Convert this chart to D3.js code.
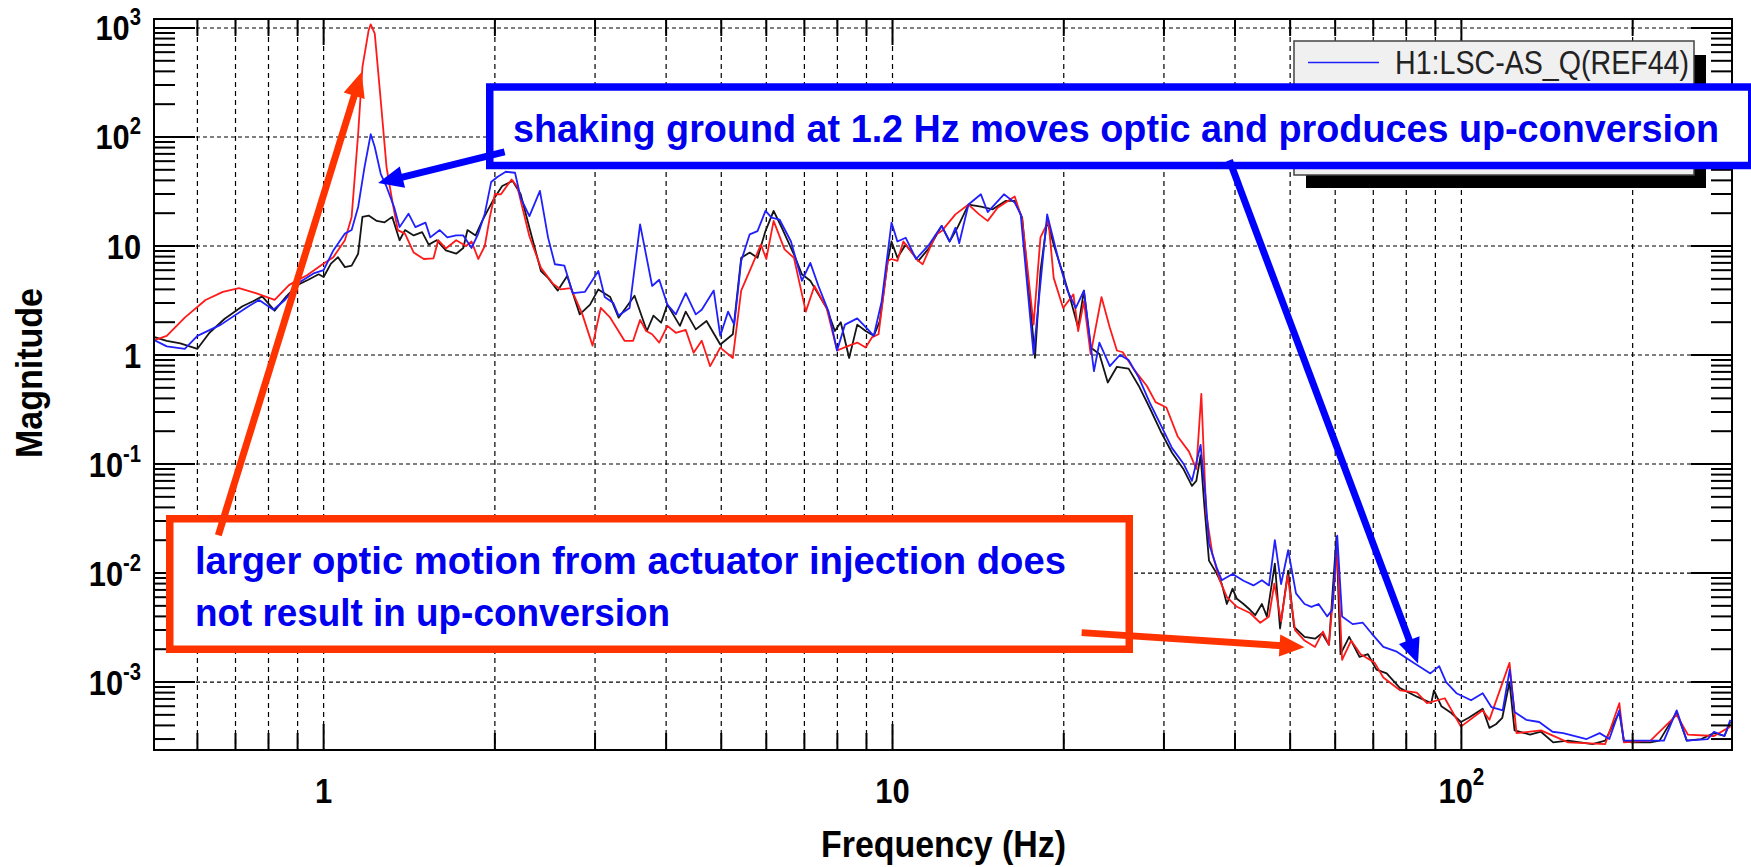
<!DOCTYPE html>
<html>
<head>
<meta charset="utf-8">
<script src="https://cdn.jsdelivr.net/npm/d3@7"></script>
<style>
  body { margin: 0; background: #fff; }
  svg { display: block; font-family: "Liberation Sans", Arial, sans-serif; }
</style>
</head>
<body>
<div id="chart"></div>
<script>
// Spectra: [frequency (Hz), magnitude]
let blackData = [
  [0.5,1.48],[0.53,1.35],[0.56,1.28],[0.6,1.14],[0.63,1.6],[0.67,2.15],[0.72,2.8],[0.75,3.1],[0.78,3.45],
  [0.82,2.55],[0.86,3.45],[0.9,4.4],[0.94,4.9],[0.98,5.5],[1.0,5.2],[1.03,6.9],[1.06,7.9],[1.09,6.4],
  [1.12,6.6],[1.15,8.5],[1.17,18.5],[1.2,19],[1.24,17],[1.28,16.5],[1.32,18.5],[1.36,11.3],[1.39,14],
  [1.44,12.5],[1.49,13.4],[1.53,10.3],[1.58,11.3],[1.64,9.1],[1.71,8.5],[1.76,9.6],[1.79,14],[1.85,12.5],
  [1.9,17],[1.95,22],[2.0,28],[2.06,35.5],[2.15,39.5],[2.22,29.8],[2.3,14.7],[2.41,5.9],[2.48,5.1],
  [2.58,3.9],[2.68,5.3],[2.82,2.36],[2.94,2.9],[3.04,4.0],[3.19,3.4],[3.3,2.2],[3.52,3.5],[3.7,1.66],
  [3.8,2.3],[3.92,1.98],[4.02,2.9],[4.23,1.85],[4.33,2.5],[4.51,1.72],[4.71,2.05],[4.98,1.25],[5.24,1.55],
  [5.42,7.8],[5.61,8.7],[5.79,7.8],[5.98,13.7],[6.18,21],[6.39,14.7],[6.71,8.4],[6.93,5.5],[7.17,4.8],
  [7.41,3.6],[7.66,2.7],[7.92,1.66],[8.11,2.0],[8.39,0.94],[8.67,1.9],[8.97,1.66],[9.27,1.5],[9.5,2.05],
  [9.81,7.3],[9.96,11],[10.2,7.8],[10.55,10.3],[11.1,7.3],[11.6,9.6],[12.2,15.3],[12.6,11],[13.0,14.7],
  [13.6,24],[14.3,23],[15.0,21.7],[15.8,25.9],[16.4,25.9],[16.9,18.2],[17.3,5.1],[17.8,0.94],[18.2,5.9],
  [18.7,17],[19.2,10.3],[19.95,5.5],[20.6,3.1],[21.2,1.78],[21.7,3.9],[22.3,1.17],[23.1,1.02],[23.9,0.56],
  [24.8,0.78],[26,0.75],[27.1,0.52],[28.3,0.33],[29.6,0.2],[31,0.127],[32.5,0.089],[33.6,0.063],[34.2,0.07],
  [34.8,0.12],[35.3,0.044],[36,0.013],[37.1,0.01],[37.9,0.008],[38.7,0.0052],[39.6,0.0072],[40.3,0.0058],
  [41.4,0.0052],[42.5,0.0046],[43.4,0.0041],[44.6,0.0052],[45.5,0.004],[47.0,0.0122],[48.0,0.0031],
  [49.6,0.0105],[50.8,0.0032],[53.0,0.0026],[55.3,0.0025],[56.9,0.0028],[58.5,0.0022],[60.3,0.0215],
  [61.3,0.0018],[63.5,0.0026],[66.2,0.0017],[68.5,0.0018],[70.9,0.0013],[73.9,0.0012],[78.0,0.00088],
  [83.7,0.00073],[88.5,0.00064],[89.5,0.00084],[92.2,0.0006],[96,0.00052],[99.8,0.00043],[103,0.00047],
  [109,0.00057],[112,0.00038],[115,0.00041],[118,0.00047],[121.5,0.001],[124,0.00036],[132,0.00033],
  [138,0.00035],[145,0.00028],[154,0.00029],[170,0.00027],[179,0.00029],[189.5,0.00053],[193,0.00029],
  [199,0.00028],[215,0.00028],[223,0.00029],[239,0.00053],[249,0.00029],[264,0.0003],[278,0.00034],
  [290,0.00032],[297,0.00043]
];

let redData = [
  [0.5,1.35],[0.53,1.5],[0.57,2.2],[0.62,3.2],[0.665,3.8],[0.71,4.1],[0.76,3.7],[0.82,3.2],[0.87,4.4],
  [0.935,5.4],[1.0,6.9],[1.04,7.9],[1.09,11.3],[1.12,18.5],[1.15,107],[1.17,438],[1.2,954],[1.21,1080],
  [1.23,888],[1.26,217],[1.29,53],[1.32,26],[1.35,14],[1.39,13],[1.44,8.7],[1.5,7.6],[1.56,7.7],[1.59,11.3],
  [1.64,9.5],[1.71,11.3],[1.78,10],[1.82,11],[1.87,7.6],[1.92,10],[1.96,18.5],[2.0,30],[2.05,29.8],
  [2.14,40.8],[2.19,35],[2.3,12.3],[2.41,6.3],[2.53,4.5],[2.61,4.0],[2.72,4.1],[2.85,2.36],[2.97,1.22],
  [3.07,2.7],[3.19,2.2],[3.38,1.35],[3.5,1.35],[3.6,2.1],[3.69,1.66],[3.78,1.55],[3.89,1.3],[4.02,1.85],
  [4.16,1.6],[4.33,1.7],[4.47,1.05],[4.62,1.35],[4.78,0.79],[4.98,1.17],[5.24,0.94],[5.42,3.9],[5.61,5.9],
  [5.87,10.3],[6.0,7.6],[6.18,17],[6.46,9.3],[6.71,7.8],[7.04,2.5],[7.29,4.3],[7.66,2.7],[7.99,1.1],
  [8.32,1.2],[8.67,1.3],[8.97,1.17],[9.2,1.45],[9.45,1.55],[9.81,7.3],[9.96,7.6],[10.2,7.3],[10.45,11],
  [11.1,7.3],[11.3,6.8],[11.9,12.6],[12.2,13.7],[12.9,19.5],[13.6,24],[14.2,19.5],[14.7,17],[15.3,22.4],
  [16.4,28.5],[16.9,17.5],[17.7,1.9],[18.2,12],[18.8,17],[19.2,5.1],[19.95,2.7],[20.8,3.6],[21.2,1.66],
  [21.7,3.1],[22.3,1.02],[23.3,3.4],[24.1,1.78],[24.8,1.1],[25.4,1.06],[26.5,0.75],[28.0,0.52],[29.0,0.37],
  [30.3,0.33],[31.7,0.18],[33.2,0.13],[34.2,0.09],[34.9,0.44],[35.6,0.035],[36.5,0.015],[37.6,0.0086],
  [38.7,0.006],[40.3,0.0049],[42.5,0.0043],[44.3,0.0035],[45.9,0.004],[46.9,0.008],[48.2,0.0036],
  [49.5,0.0095],[51,0.003],[53,0.0024],[55.3,0.0021],[57.1,0.0029],[58.5,0.0022],[60.5,0.0162],[61.7,0.0016],
  [64,0.0024],[66.5,0.0018],[70.4,0.0015],[72.9,0.0011],[78,0.00084],[83.5,0.0008],[87,0.00064],
  [93.5,0.00071],[99.8,0.00039],[109,0.00055],[112,0.00045],[121.5,0.0015],[125,0.00034],[138,0.00036],
  [154,0.00028],[179,0.00027],[189.5,0.00064],[193,0.00028],[215,0.00029],[239,0.0005],[250,0.00033],
  [278,0.00032],[297,0.00039]
];

let blueData = [
  [0.5,1.4],[0.53,1.2],[0.57,1.14],[0.6,1.5],[0.66,1.9],[0.73,2.7],[0.77,3.2],[0.816,2.6],[0.855,3.2],
  [0.91,4.7],[0.96,5.6],[1.0,6.0],[1.04,9.1],[1.09,13],[1.12,14],[1.15,22.8],[1.18,53],[1.21,106],[1.23,81],
  [1.26,46],[1.29,35],[1.33,22.8],[1.36,14.9],[1.41,19.8],[1.45,14.9],[1.51,16.4],[1.54,12],[1.6,14],
  [1.65,12],[1.71,12.5],[1.76,12.5],[1.82,9.6],[1.87,13],[1.92,19.8],[1.97,38.6],[2.02,43],[2.09,48],
  [2.17,47],[2.22,27.7],[2.3,18.8],[2.4,32],[2.48,12],[2.55,6.8],[2.65,6.6],[2.74,3.7],[2.88,3.8],[3.04,5.9],
  [3.12,3.4],[3.23,3.0],[3.3,2.3],[3.45,2.7],[3.6,15.8],[3.78,4.3],[3.89,4.9],[4.02,2.9],[4.16,2.36],
  [4.33,3.7],[4.51,2.36],[4.62,2.6],[4.85,3.9],[4.98,1.5],[5.14,2.5],[5.27,1.9],[5.42,7.3],[5.61,12.8],
  [5.79,13.7],[5.98,21],[6.13,18.2],[6.33,17.5],[6.63,11],[6.93,4.8],[7.17,7.0],[7.41,4.3],[7.72,2.5],
  [7.99,1.1],[8.25,1.9],[8.67,2.17],[9.05,1.72],[9.27,1.5],[9.57,3.1],[9.96,16.4],[10.2,11],[10.55,11.9],
  [11.0,7.6],[11.6,10.3],[12.2,15.3],[12.6,11],[12.9,14.7],[13.1,10.6],[13.6,24],[14.3,29.8],[14.7,20.5],
  [15.7,29.8],[16.4,25],[16.8,19.5],[17.7,1.02],[18.7,19.5],[19.6,7.3],[20.3,3.9],[21.0,2.7],[21.7,3.9],
  [22.6,0.71],[23.1,1.3],[24.1,0.79],[25.1,1.0],[26,0.9],[27.1,0.62],[28.3,0.37],[29.6,0.23],[31,0.14],
  [32.5,0.1],[33.6,0.07],[34.8,0.15],[35.5,0.05],[36,0.0186],[37.1,0.0114],[37.9,0.0086],[39.6,0.0098],
  [41.4,0.0085],[43.1,0.0077],[44.6,0.0086],[45.9,0.0077],[47,0.02],[48.2,0.0079],[49.6,0.0162],
  [51.2,0.0065],[53,0.0052],[54.5,0.0049],[56.1,0.0052],[58.1,0.004],[59.3,0.0046],[60.5,0.022],
  [61.7,0.004],[64.4,0.0034],[67.1,0.0035],[69.5,0.0028],[72.9,0.0021],[77,0.0019],[82.4,0.0015],
  [88.2,0.0012],[91.4,0.0014],[94,0.001],[98,0.00079],[104,0.00068],[109,0.00079],[112.9,0.00059],
  [118.2,0.00055],[121.6,0.0013],[124,0.00053],[130,0.00045],[137,0.00043],[144.6,0.00035],[151,0.00034],
  [166,0.0003],[175,0.00034],[182,0.0003],[189.5,0.00055],[193,0.00029],[198,0.00029],[208,0.00029],
  [227,0.00029],[239,0.00055],[249,0.00029],[271,0.0003],[278,0.00035],[290,0.00032],[297,0.00045]
];

// Tick labels (powers of ten)
let yTickExponents = [-3, -2, -1, 0, 1, 2, 3];
let xTickExponents = [0, 1, 2];

let legendLabel = "H1:LSC-AS_Q(REF44)";
let blueNote = "shaking ground at 1.2 Hz moves optic and produces up-conversion";
let redNote = ["larger optic motion from actuator injection does", "not result in up-conversion"];

// Arrows as [from, to] in [Hz, magnitude]
let blueArrows = [[[2.08, 72.9], [1.247, 37.8]], [[39.1, 61.1], [83.9, 0.00148]]];
let redArrows = [[[0.653, 0.0222], [1.166, 395]], [[21.5, 0.00284], [53.0, 0.00209]]];

// Define SVG area and plot frame
let svgWidth = 1751;
let svgHeight = 867;
let plot = { left: 154, right: 1732, top: 19, bottom: 750 };

let svg = d3.select("#chart")
  .append("svg")
  .attr("width", svgWidth)
  .attr("height", svgHeight);

// Log scales
let xScale = d3.scaleLog().domain([0.5033, 299]).range([plot.left, plot.right]);
let yScale = d3.scaleLog().domain([2.38e-4, 1209]).range([plot.bottom, plot.top]);

// Tick positions: every 1..9 x decade inside the domain
function logTicks(scale, eMin, eMax) {
  let out = [];
  let dom = scale.domain();
  for (let e = eMin; e <= eMax; e++) {
    for (let m = 1; m <= 9; m++) {
      let v = m * Math.pow(10, e);
      if (v > dom[0] * 1.001 && v < dom[1] * 0.999) out.push({ v: v, major: m === 1 });
    }
  }
  return out;
}
let xTicks = logTicks(xScale, -1, 2);
let yTicks = logTicks(yScale, -4, 3);

// Grid
svg.append("g").selectAll("line")
  .data(xTicks)
  .enter()
  .append("line")
  .attr("x1", d => xScale(d.v)).attr("x2", d => xScale(d.v))
  .attr("y1", plot.top).attr("y2", plot.bottom)
  .attr("stroke", "#000").attr("stroke-width", 1.2)
  .attr("stroke-dasharray", "5,4");

svg.append("g").selectAll("line")
  .data(yTicks.filter(d => d.major))
  .enter()
  .append("line")
  .attr("x1", plot.left).attr("x2", plot.right)
  .attr("y1", d => yScale(d.v)).attr("y2", d => yScale(d.v))
  .attr("stroke", "#000").attr("stroke-width", 1.2)
  .attr("stroke-dasharray", "4,3");

// Clip for the traces
svg.append("clipPath").attr("id", "plotClip")
  .append("rect")
  .attr("x", plot.left).attr("y", plot.top)
  .attr("width", plot.right - plot.left).attr("height", plot.bottom - plot.top);

let line = d3.line()
  .x(d => xScale(d[0]))
  .y(d => yScale(d[1]));

let traces = svg.append("g").attr("clip-path", "url(#plotClip)");
[[blackData, "#151515"], [redData, "#ff1a1a"], [blueData, "#2020ff"]].forEach(function(s) {
  traces.append("path")
    .datum(s[0])
    .attr("d", line)
    .attr("fill", "none")
    .attr("stroke", s[1])
    .attr("stroke-width", 1.8)
    .attr("stroke-linejoin", "round");
});

// Frame
svg.append("rect")
  .attr("x", plot.left).attr("y", plot.top)
  .attr("width", plot.right - plot.left).attr("height", plot.bottom - plot.top)
  .attr("fill", "none").attr("stroke", "#000").attr("stroke-width", 2);

// Ticks on all four sides
let ticks = svg.append("g").attr("stroke", "#000").attr("stroke-width", 2);
xTicks.forEach(function(d) {
  let len = d.major ? 26 : 17;
  let x = xScale(d.v);
  ticks.append("line").attr("x1", x).attr("x2", x).attr("y1", plot.bottom).attr("y2", plot.bottom - len);
  ticks.append("line").attr("x1", x).attr("x2", x).attr("y1", plot.top).attr("y2", plot.top + len);
});
yTicks.forEach(function(d) {
  let len = d.major ? 41 : 21;
  let y = yScale(d.v);
  ticks.append("line").attr("x1", plot.left).attr("x2", plot.left + len).attr("y1", y).attr("y2", y);
  ticks.append("line").attr("x1", plot.right).attr("x2", plot.right - len).attr("y1", y).attr("y2", y);
});

// Power-of-ten label
function powerLabel(text, e, supSize, supShift) {
  if (e === 0) {
    text.append("tspan").text("1");
  } else if (e === 1) {
    text.append("tspan").text("10");
  } else {
    text.append("tspan").text("10");
    text.append("tspan").attr("dy", supShift).attr("font-size", supSize).text(e);
  }
}

yTickExponents.forEach(function(e) {
  let g = svg.append("g")
    .attr("transform", `translate(141, ${yScale(Math.pow(10, e)) + 12.5}) scale(0.88,1)`);
  let t = g.append("text")
    .attr("text-anchor", "end")
    .attr("font-size", 35)
    .attr("font-weight", "bold")
    .attr("fill", "#000");
  powerLabel(t, e, 23, -15);
});

xTickExponents.forEach(function(e) {
  let g = svg.append("g")
    .attr("transform", `translate(${xScale(Math.pow(10, e))}, 803) scale(0.86,1)`);
  let t = g.append("text")
    .attr("text-anchor", "middle")
    .attr("font-size", 36)
    .attr("font-weight", "bold")
    .attr("fill", "#000");
  powerLabel(t, e, 24, -18);
});

// Axis titles
svg.append("text")
  .attr("transform", "translate(42, 373) rotate(-90)")
  .attr("text-anchor", "middle")
  .attr("font-size", 36)
  .attr("font-weight", "bold")
  .attr("textLength", 170)
  .attr("lengthAdjust", "spacingAndGlyphs")
  .text("Magnitude");

svg.append("text")
  .attr("x", 943.5)
  .attr("y", 857)
  .attr("text-anchor", "middle")
  .attr("font-size", 36)
  .attr("font-weight", "bold")
  .attr("textLength", 245)
  .attr("lengthAdjust", "spacingAndGlyphs")
  .text("Frequency (Hz)");

// Legend with drop shadow
let legend = svg.append("g");
legend.append("rect")
  .attr("x", 1306).attr("y", 55).attr("width", 400).attr("height", 133)
  .attr("fill", "#000");
legend.append("rect")
  .attr("x", 1294).attr("y", 41).attr("width", 400).attr("height", 134)
  .attr("fill", "#f0f0f0").attr("stroke", "#444").attr("stroke-width", 1.5);
legend.append("line")
  .attr("x1", 1308).attr("x2", 1379).attr("y1", 62.5).attr("y2", 62.5)
  .attr("stroke", "#2020ff").attr("stroke-width", 1.7);
legend.append("text")
  .attr("x", 1395).attr("y", 74)
  .attr("font-size", 34)
  .attr("fill", "#222")
  .attr("textLength", 294)
  .attr("lengthAdjust", "spacingAndGlyphs")
  .text(legendLabel);

// Red annotation box
svg.append("rect")
  .attr("x", 169.75).attr("y", 518.75).attr("width", 959.5).attr("height", 130.5)
  .attr("fill", "#fff").attr("stroke", "#ff3300").attr("stroke-width", 7.5);
let redText = svg.append("g")
  .attr("font-size", 38).attr("font-weight", "bold").attr("fill", "#0000ee");
redText.append("text").attr("x", 195).attr("y", 573.5)
  .attr("textLength", 871).attr("lengthAdjust", "spacingAndGlyphs").text(redNote[0]);
redText.append("text").attr("x", 195).attr("y", 625.5)
  .attr("textLength", 475).attr("lengthAdjust", "spacingAndGlyphs").text(redNote[1]);

// Blue annotation box
svg.append("rect")
  .attr("x", 489.75).attr("y", 87).attr("width", 1262).attr("height", 78.5)
  .attr("fill", "#fff").attr("stroke", "#0000ff").attr("stroke-width", 7.5);
svg.append("text")
  .attr("x", 513).attr("y", 141.5)
  .attr("font-size", 38).attr("font-weight", "bold").attr("fill", "#0000ee")
  .attr("textLength", 1206).attr("lengthAdjust", "spacingAndGlyphs")
  .text(blueNote);

// Arrows
function drawArrow(pair, color) {
  let x1 = xScale(pair[0][0]), y1 = yScale(pair[0][1]);
  let x2 = xScale(pair[1][0]), y2 = yScale(pair[1][1]);
  let dx = x2 - x1, dy = y2 - y1;
  let len = Math.hypot(dx, dy);
  let ux = dx / len, uy = dy / len;
  let headLen = 25, headW = 11;
  let bx = x2 - ux * headLen, by = y2 - uy * headLen;
  svg.append("line")
    .attr("x1", x1).attr("y1", y1)
    .attr("x2", bx + ux * 3).attr("y2", by + uy * 3)
    .attr("stroke", color).attr("stroke-width", 7);
  svg.append("polygon")
    .attr("points", [[x2, y2], [bx - uy * headW, by + ux * headW], [bx + uy * headW, by - ux * headW]].join(" "))
    .attr("fill", color);
}
redArrows.forEach(a => drawArrow(a, "#ff3300"));
blueArrows.forEach(a => drawArrow(a, "#0000ff"));
</script>
</body>
</html>
